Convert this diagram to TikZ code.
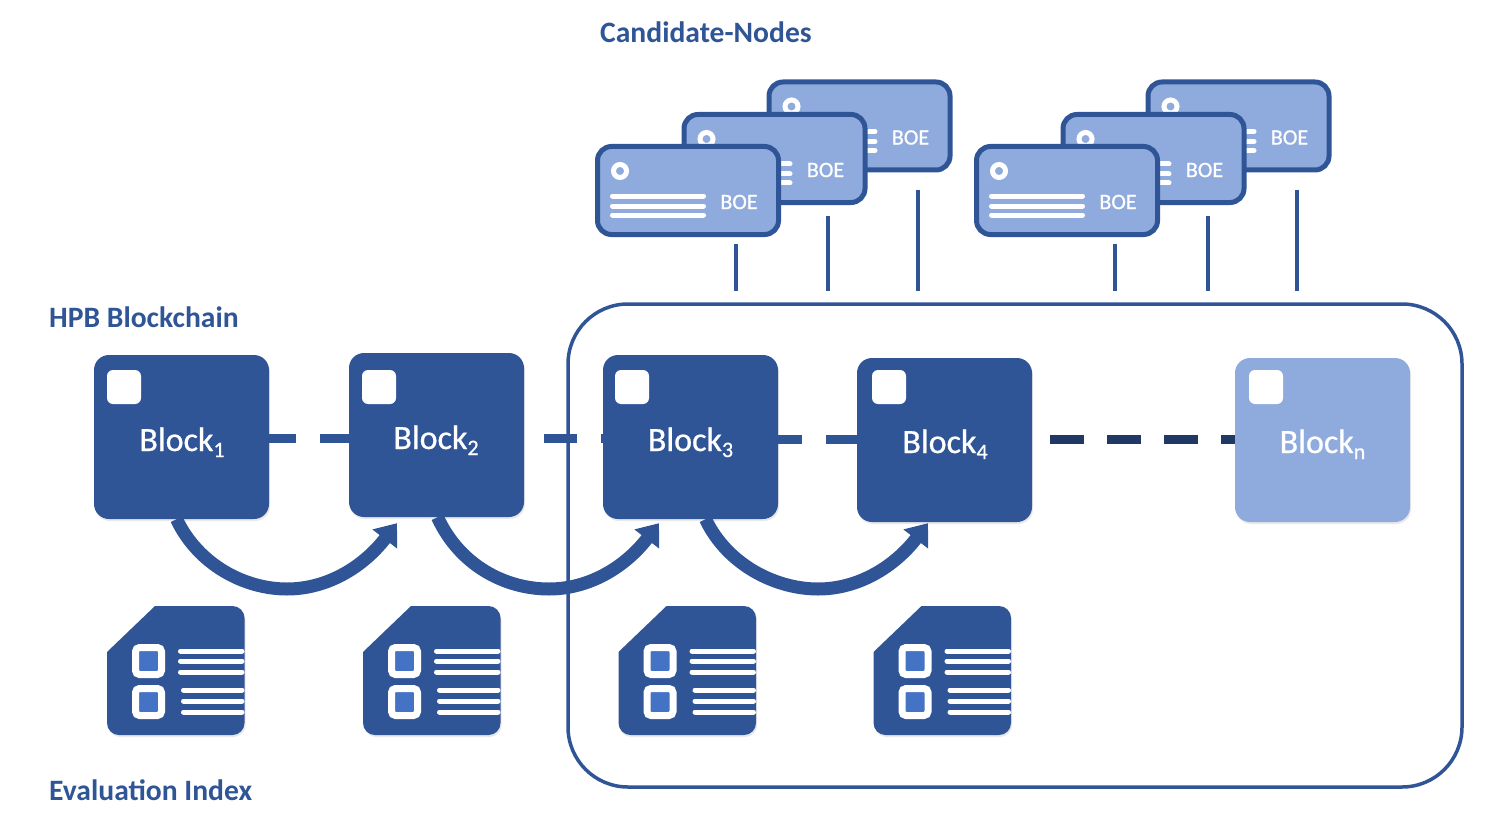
\documentclass[tikz,border=0pt]{standalone}
\usepackage{fontspec}
\setmainfont{Carlito}
\newfontfamily\whitefont[FakeBold=0.7]{Carlito}
\usetikzlibrary{arrows.meta}
\usetikzlibrary{positioning,shadows,calc}
\definecolor{hpbdark}{HTML}{2F5597}
\definecolor{hpblight}{HTML}{8FAADC}
\definecolor{hpbinner}{HTML}{4472C4}
\definecolor{hpbdash}{HTML}{203864}
\tikzset{
    softshadow/.style={
        drop shadow={opacity=0.18, shadow xshift=1pt, shadow yshift=-2pt}
    },
    block/.style={
        fill=hpbdark,
        rounded corners=15pt,
        minimum width=175pt,
        minimum height=164pt,
        inner sep=0pt,
        softshadow
    },
    blocktag/.style={
        fill=white,
        rounded corners=6pt,
        minimum size=34pt,
        inner sep=0pt
    },
    blocktext/.style={
        anchor=base,
        text=white,
        inner sep=0pt,
        font=\whitefont\fontsize{34}{38}\selectfont
    },
    heading/.style={
        anchor=west,
        text=hpbdark,
        inner sep=0pt,
        font=\fontsize{29.6}{34}\selectfont\bfseries
    },
    boecard/.style={
        draw=hpbdark,
        fill=hpblight,
        line width=5pt,
        rounded corners=14pt,
        minimum width=181pt,
        minimum height=88pt,
        inner sep=0pt
    },
    carddot/.style={
        circle,
        draw=white,
        fill=hpblight,
        line width=5pt,
        minimum size=13pt,
        inner sep=0pt
    },
    cardline/.style={white, line width=5pt, line cap=round},
    boetext/.style={text=white, inner sep=0pt, font=\whitefont\fontsize{22}{26}\selectfont},
    docbox/.style={
        draw=white,
        fill=hpbinner,
        line width=7pt,
        rounded corners=4pt,
        minimum width=26pt,
        minimum height=27pt,
        inner sep=0pt
    },
    docline/.style={white, line width=5pt, line cap=round},
    stemline/.style={hpbdark, line width=4pt},
    chainline/.style={hpbdark, line width=9pt},
    hoparrow/.style={
        hpbdark,
        line width=13pt,
        -{Triangle[length=20pt, width=30pt]}
    }
}
\newcommand{\subidx}[1]{\raisebox{-6pt}{\fontsize{22}{22}\selectfont #1}}
% card with its ring, three lines and the BOE text
\newcommand{\cardat}[3]{
    \begin{scope}[shift={(#2,#3)}]
        \node[boecard] (#1) at (0,0) {};
        \node[carddot] (#1dot) at (-68,-19.5) {};
        \draw[cardline] (-75.5,5.5) -- (15.5,5.5);
        \draw[cardline] (-75.5,15.5) -- (15.5,15.5);
        \draw[cardline] (-75.5,24.5) -- (15.5,24.5);
        \node[boetext] (#1boe) at (51,11.5) {BOE};
    \end{scope}
}
% evaluation sheet, #2 is its left edge
\newcommand{\sheetat}[2]{
    \begin{scope}[shift={(#2,0)}]
        \fill[hpbdark, softshadow] (48,606) [rounded corners=12pt] -- (137.5,606) -- (137.5,735) -- (0,735) [sharp corners] -- (0,652) -- cycle;
        \node[docbox] (#1up) at (41.5,661) {};
        \node[docbox] (#1low) at (41.5,702) {};
        \draw[docline] (73.5,651) -- (135,651);
        \draw[docline] (73.5,661) -- (135,661);
        \draw[docline] (73.5,672) -- (135,672);
        \draw[docline] (76.5,690) -- (135,690);
        \draw[docline] (76.5,701) -- (135,701);
        \draw[docline] (76.5,712) -- (135,712);
    \end{scope}
}
\begin{document}
\begin{tikzpicture}[x=1pt, y=-1pt]
    \useasboundingbox (0,0) rectangle (1495,837);

    % Headings
    \node[heading] (candidates) at (600,32) {Candidate-Nodes};
    \node[heading] (chainhead) at (49,317) {HPB Blockchain};
    \node[heading] (evalhead) at (49,790) {Evaluation Index};

    % Frame round the later blocks
    \node[draw=hpbdark, line width=3.5pt, rounded corners=60pt, minimum width=894pt, minimum height=483pt] (group) at (1015,545.5) {};

    % Candidate cards
    \cardat{c3}{859.5}{126}
    \cardat{c2}{774.5}{158.5}
    \cardat{c1}{688}{190.5}
    \cardat{c6}{1238.5}{126}
    \cardat{c5}{1153.5}{158.5}
    \cardat{c4}{1067}{190.5}

    % Stems from the cards to the frame
    \draw[stemline, shorten >=11pt] ([shift={(48,7)}]c1.south) -- ([xshift=48pt]c1.south |- group.north);
    \draw[stemline, shorten >=11pt] ([shift={(53.5,11)}]c2.south) -- ([xshift=53.5pt]c2.south |- group.north);
    \draw[stemline, shorten >=11pt] ([shift={(58.5,17)}]c3.south) -- ([xshift=58.5pt]c3.south |- group.north);
    \draw[stemline, shorten >=11pt] ([shift={(48,7)}]c4.south) -- ([xshift=48pt]c4.south |- group.north);
    \draw[stemline, shorten >=11pt] ([shift={(54.5,11)}]c5.south) -- ([xshift=54.5pt]c5.south |- group.north);
    \draw[stemline, shorten >=11pt] ([shift={(58.5,17)}]c6.south) -- ([xshift=58.5pt]c6.south |- group.north);

    % Blocks
    \node[block] (b1) at (181.5,437) {};
    \node[block] (b2) at (436.5,435) {};
    \node[block] (b3) at (690.5,437) {};
    \node[block] (b4) at (944.5,440) {};
    \node[block, fill=hpblight] (bn) at (1322.5,440) {};

    \node[blocktag] (t1) at (124,387) {};
    \node[blocktag] (t2) at (379,387) {};
    \node[blocktag] (t3) at (632,387) {};
    \node[blocktag] (t4) at (889,387) {};
    \node[blocktag] (tn) at (1266,387) {};

    \node[blocktext] (l1) at (182,451) {Block\subidx{1}};
    \node[blocktext] (l2) at (436,449) {Block\subidx{2}};
    \node[blocktext] (l3) at (690.5,451) {Block\subidx{3}};
    \node[blocktext] (l4) at (945,453) {Block\subidx{4}};
    \node[blocktext] (ln) at (1322.5,453) {Block\subidx{n}};

    % Dashed chain between the blocks
    \draw[chainline, dash pattern=on 27pt off 24pt on 40pt] ([yshift=-1pt]b1.east) -- ([yshift=-1pt]b1.east -| b2.west);
    \draw[chainline, dash pattern=on 33pt off 24pt on 40pt, shorten <=20pt] ([yshift=-3pt]b2.east) -- ([yshift=-3pt]b2.east -| b3.west);
    \draw[chainline, dash pattern=on 24pt off 24pt on 40pt] ([yshift=-2pt]b3.east) -- ([yshift=-2pt]b3.east -| b4.west);
    \draw[chainline, hpbdash, dash pattern=on 34pt off 23pt, shorten <=18pt] ([yshift=1pt]b4.east) -- ([yshift=1pt]bn.west);

    % Curved arrows from block to block
    \coordinate (m1) at (287,589);
    \coordinate (m2) at (549,589);
    \coordinate (m3) at (818,589);
    \draw[hoparrow] ([xshift=-5pt]b1.south) .. controls +(22,46) and +(-42,0) .. (m1) .. controls +(40,0) and +(-34,44) .. ([shift={(-39.5,6)}]b2.south);
    \draw[hoparrow] ([xshift=1pt]b2.south) .. controls +(22,48) and +(-44,0) .. (m2) .. controls +(40,0) and +(-34,44) .. ([shift={(-31.5,4)}]b3.south);
    \draw[hoparrow] ([xshift=15pt]b3.south) .. controls +(22,46) and +(-42,0) .. (m3) .. controls +(40,0) and +(-34,44) .. ([shift={(-16.5,1)}]b4.south);

    % Evaluation sheets
    \sheetat{s1}{107}
    \sheetat{s2}{363}
    \sheetat{s3}{618.5}
    \sheetat{s4}{873.5}
\end{tikzpicture}
\end{document}
